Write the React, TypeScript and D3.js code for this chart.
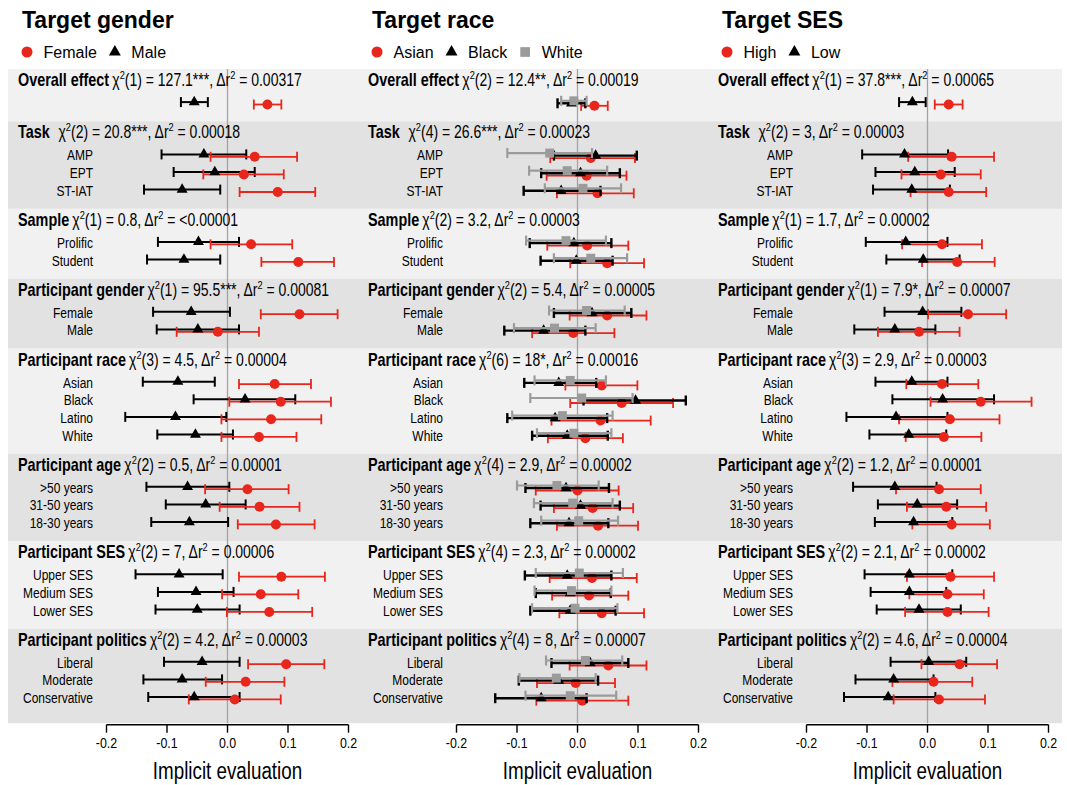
import React from "react";
import * as d3 from "d3";

// ---------- data ----------
const groupNames = [
  "Overall effect", "Task", "Sample", "Participant gender", "Participant race",
  "Participant age", "Participant SES", "Participant politics",
];
const groupLevels = [
  [""],
  ["AMP", "EPT", "ST-IAT"],
  ["Prolific", "Student"],
  ["Female", "Male"],
  ["Asian", "Black", "Latino", "White"],
  [">50 years", "31-50 years", "18-30 years"],
  ["Upper SES", "Medium SES", "Lower SES"],
  ["Liberal", "Moderate", "Conservative"],
];
const tickValues = [-0.2, -0.1, 0, 0.1, 0.2];

// Target gender
const genderDf = [1, 2, 1, 1, 3, 2, 2, 2];
const genderChi = ["127.1***", "20.8***", "0.8", "95.5***", "4.5", "0.5", "7", "4.2"];
const genderDr2 = ["0.00317", "0.00018", "<0.00001", "0.00081", "0.00004", "0.00001", "0.00006", "0.00003"];
// [estimate, lower, upper]
const genderFemale = [
  [0.066, 0.0435, 0.089],
  [0.045, -0.028, 0.115], [0.027, -0.04, 0.093], [0.083, 0.02, 0.145],
  [0.039, -0.028, 0.107], [0.117, 0.056, 0.176],
  [0.119, 0.055, 0.182], [-0.016, -0.084, 0.052],
  [0.078, 0.019, 0.138], [0.088, 0.003, 0.171], [0.072, -0.01, 0.155], [0.052, -0.01, 0.114],
  [0.033, -0.037, 0.101], [0.053, -0.013, 0.119], [0.08, 0.017, 0.144],
  [0.089, 0.019, 0.161], [0.055, -0.009, 0.117], [0.069, -0.001, 0.14],
  [0.097, 0.034, 0.16], [0.03, -0.036, 0.094], [0.012, -0.064, 0.088],
];
const genderMale = [
  [-0.055, -0.077, -0.0325],
  [-0.039, -0.109, 0.031], [-0.021, -0.089, 0.045], [-0.075, -0.138, -0.012],
  [-0.048, -0.115, 0.019], [-0.072, -0.133, -0.012],
  [-0.06, -0.123, 0.004], [-0.049, -0.117, 0.019],
  [-0.082, -0.14, -0.021], [0.029, -0.056, 0.112], [-0.086, -0.169, -0.002], [-0.053, -0.116, 0.009],
  [-0.066, -0.134, 0.003], [-0.036, -0.102, 0.03], [-0.063, -0.126, 0.001],
  [-0.08, -0.152, -0.008], [-0.052, -0.115, 0.01], [-0.05, -0.119, 0.02],
  [-0.042, -0.105, 0.02], [-0.075, -0.139, -0.009], [-0.055, -0.131, 0.02],
];

// Target race
const raceDf = [2, 4, 2, 2, 6, 4, 4, 4];
const raceChi = ["12.4**", "26.6***", "3.2", "5.4", "18*", "2.9", "2.3", "8"];
const raceDr2 = ["0.00019", "0.00023", "0.00003", "0.00005", "0.00016", "0.00002", "0.00002", "0.00007"];
const raceAsian = [
  [0.028, 0.006, 0.05],
  [0.022, -0.045, 0.095], [0.015, -0.051, 0.081], [0.033, -0.034, 0.093],
  [0.016, -0.05, 0.084], [0.049, -0.012, 0.11],
  [0.049, -0.013, 0.114], [-0.007, -0.075, 0.061],
  [0.04, -0.02, 0.099], [0.073, -0.012, 0.158], [0.038, -0.043, 0.121], [0.013, -0.049, 0.075],
  [0.0, -0.069, 0.068], [0.025, -0.039, 0.092], [0.034, -0.034, 0.1],
  [0.024, -0.046, 0.098], [0.019, -0.042, 0.084], [0.04, -0.03, 0.11],
  [0.051, -0.013, 0.114], [-0.003, -0.067, 0.062], [0.008, -0.068, 0.084],
];
const raceBlack = [
  [-0.01, -0.033, 0.013],
  [0.03, -0.039, 0.098], [0.005, -0.06, 0.07], [-0.027, -0.089, 0.038],
  [-0.006, -0.079, 0.056], [-0.002, -0.061, 0.058],
  [0.024, -0.039, 0.089], [-0.056, -0.121, 0.013],
  [-0.031, -0.088, 0.031], [0.096, 0.01, 0.179], [-0.037, -0.116, 0.049], [-0.017, -0.075, 0.05],
  [-0.019, -0.086, 0.052], [0.005, -0.061, 0.07], [-0.014, -0.078, 0.051],
  [-0.017, -0.087, 0.056], [-0.012, -0.069, 0.055], [-0.012, -0.078, 0.063],
  [0.021, -0.043, 0.084], [-0.031, -0.097, 0.034], [-0.06, -0.136, 0.015],
];
const raceWhite = [
  [-0.006, -0.027, 0.015],
  [-0.046, -0.116, 0.024], [-0.017, -0.08, 0.049], [0.009, -0.054, 0.072],
  [-0.019, -0.085, 0.047], [0.022, -0.039, 0.082],
  [0.015, -0.047, 0.078], [-0.038, -0.105, 0.03],
  [-0.012, -0.071, 0.047], [0.007, -0.078, 0.091], [-0.025, -0.108, 0.058], [-0.006, -0.067, 0.056],
  [-0.034, -0.1, 0.035], [-0.008, -0.072, 0.058], [0.002, -0.06, 0.067],
  [0.003, -0.069, 0.075], [-0.01, -0.071, 0.056], [-0.004, -0.075, 0.066],
  [0.013, -0.052, 0.074], [-0.035, -0.096, 0.03], [-0.012, -0.086, 0.064],
];

// Target SES
const sesDf = [1, 2, 1, 1, 3, 2, 2, 2];
const sesChi = ["37.8***", "3", "1.7", "7.9*", "2.9", "1.2", "2.1", "4.6"];
const sesDr2 = ["0.00065", "0.00003", "0.00002", "0.00007", "0.00003", "0.00001", "0.00002", "0.00004"];
const sesHigh = [
  [0.035, 0.012, 0.058],
  [0.04, -0.032, 0.11], [0.022, -0.043, 0.088], [0.035, -0.028, 0.097],
  [0.024, -0.042, 0.09], [0.049, -0.009, 0.111],
  [0.067, 0.001, 0.13], [-0.014, -0.082, 0.053],
  [0.024, -0.035, 0.084], [0.088, 0.005, 0.172], [0.037, -0.047, 0.119], [0.027, -0.036, 0.089],
  [0.019, -0.052, 0.088], [0.031, -0.034, 0.097], [0.04, -0.025, 0.103],
  [0.038, -0.034, 0.11], [0.033, -0.03, 0.093], [0.033, -0.037, 0.101],
  [0.053, -0.01, 0.115], [0.01, -0.058, 0.074], [0.019, -0.056, 0.095],
];
const sesLow = [
  [-0.025, -0.047, -0.003],
  [-0.038, -0.108, 0.034], [-0.021, -0.086, 0.045], [-0.026, -0.09, 0.037],
  [-0.036, -0.102, 0.033], [-0.007, -0.068, 0.053],
  [-0.008, -0.071, 0.056], [-0.054, -0.121, 0.013],
  [-0.026, -0.086, 0.033], [0.025, -0.058, 0.11], [-0.052, -0.134, 0.033], [-0.031, -0.096, 0.031],
  [-0.054, -0.123, 0.015], [-0.017, -0.082, 0.049], [-0.023, -0.087, 0.041],
  [-0.03, -0.104, 0.041], [-0.03, -0.094, 0.031], [-0.014, -0.084, 0.055],
  [0.002, -0.061, 0.064], [-0.056, -0.119, 0.01], [-0.065, -0.138, 0.013],
];

// ---------- styling ----------
const RED = "#E8261C";
const BLACK = "#000000";
const GRAY = "#9B9B9B";
const FONT = "'Liberation Sans', Arial, Helvetica, sans-serif";
const SX = 0.8; // condensed text

type Series = { name: string; shape: string; color: string; values: number[][]; dy: number; lw: number };
type Panel = { title: string; df: number[]; chi: string[]; dr2: string[]; series: Series[]; sequential: boolean; legend: number[] };

const panels: Panel[] = [
  {
    title: "Target gender", df: genderDf, chi: genderChi, dr2: genderDr2, sequential: false,
    legend: [1, 0],
    series: [
      { name: "Male", shape: "triangle", color: BLACK, values: genderMale, dy: -1.2, lw: 2 },
      { name: "Female", shape: "circle", color: RED, values: genderFemale, dy: 1.2, lw: 1.8 },
    ],
  },
  {
    title: "Target race", df: raceDf, chi: raceChi, dr2: raceDr2, sequential: true,
    legend: [0, 1, 2],
    series: [
      { name: "Asian", shape: "circle", color: RED, values: raceAsian, dy: 2.5, lw: 1.8 },
      { name: "Black", shape: "triangle", color: BLACK, values: raceBlack, dy: 0, lw: 2.4 },
      { name: "White", shape: "square", color: GRAY, values: raceWhite, dy: -2.5, lw: 2.2 },
    ],
  },
  {
    title: "Target SES", df: sesDf, chi: sesChi, dr2: sesDr2, sequential: false,
    legend: [1, 0],
    series: [
      { name: "Low", shape: "triangle", color: BLACK, values: sesLow, dy: -1.2, lw: 2 },
      { name: "High", shape: "circle", color: RED, values: sesHigh, dy: 1.2, lw: 1.8 },
    ],
  },
];

// ---------- layout ----------
const PANEL_W = 350;
const X0 = 106.5;
const X1 = 348.5;
const HEADER0 = 80;
const HEAD_TO_ROW = 23.3;
const ROW_STEP = 17.6;
const GROUP_GAP = 29;
const BAND_X0 = 8;
const BAND_X1 = 1062;

const layout = (() => {
  let y = HEADER0;
  const out: { header: number; rows: number[] }[] = [];
  groupLevels.forEach((levels) => {
    const header = y;
    const rows = levels.map((_, i) => header + HEAD_TO_ROW + i * ROW_STEP);
    out.push({ header, rows });
    y = rows[rows.length - 1] + GROUP_GAP;
  });
  return out;
})();
const rowYs = layout.flatMap((g) => g.rows);
const bandTop = (i: number) => layout[i].header - 11;
const bandBottom = (i: number) =>
  i < layout.length - 1 ? layout[i + 1].header - 11 : layout[i].rows[layout[i].rows.length - 1] + 25;
const plotTop = bandTop(0);
const plotBottom = bandBottom(layout.length - 1);
const axisY = plotBottom + 1.5;

const symbolPath = (shape: string, size: number) => {
  const t = shape === "circle" ? d3.symbolCircle : shape === "triangle" ? d3.symbolTriangle : d3.symbolSquare;
  return d3.symbol().type(t).size(size)() as string;
};
const markerSize = (shape: string) => (shape === "circle" ? 78 : shape === "triangle" ? 52 : 80);

const fmt = (v: number) => d3.format(".1f")(v).replace("\u2212", "-");

function measure(text: string, font: string) {
  if (typeof document === "undefined") return text.length * 8;
  const c = document.createElement("canvas").getContext("2d");
  if (!c) return text.length * 8;
  c.font = font;
  return c.measureText(text).width;
}

function CText(props: any) {
  const { x, y, anchor = "start", size, weight = "normal", children, fill = "#000" } = props;
  return (
    <text
      transform={`translate(${x},${y}) scale(${SX},1)`}
      textAnchor={anchor}
      fontSize={size}
      fontWeight={weight}
      fill={fill}
      fontFamily={FONT}
    >
      {children}
    </text>
  );
}

function ErrorBar({ x, lo, hi, y, color, lw }: any) {
  const cap = 5;
  return (
    <g stroke={color} strokeWidth={lw} fill="none">
      <line x1={x(lo)} x2={x(hi)} y1={y} y2={y} />
      <line x1={x(lo)} x2={x(lo)} y1={y - cap} y2={y + cap} />
      <line x1={x(hi)} x2={x(hi)} y1={y - cap} y2={y + cap} />
    </g>
  );
}

function Point({ x, y, shape, color }: any) {
  return <path d={symbolPath(shape, markerSize(shape))} transform={`translate(${x},${y})`} fill={color} />;
}

function PanelView({ panel, index }: { panel: Panel; index: number }) {
  const off = index * PANEL_W;
  const x = d3.scaleLinear().domain([-0.2, 0.2]).range([X0 + off, X1 + off]);

  const bars = (s: Series, si: number) =>
    s.values.map((v, i) => (
      <ErrorBar key={`b${si}-${i}`} x={x} lo={v[1]} hi={v[2]} y={rowYs[i] + s.dy} color={s.color} lw={s.lw} />
    ));
  const points = (s: Series, si: number) =>
    s.values.map((v, i) => (
      <Point key={`p${si}-${i}`} x={x(v[0])} y={rowYs[i] + s.dy} shape={s.shape} color={s.color} />
    ));

  // legend
  const legendFont = `16px ${FONT}`;
  let lx = off + 27;
  const legendItems = panel.legend.map((si) => {
    const s = panel.series[si];
    const mx = lx;
    const tx = mx + 16.5;
    lx = tx + measure(s.name, legendFont) + 18;
    return (
      <g key={`lg${si}`}>
        <path
          d={symbolPath(s.shape, s.shape === "circle" ? 95 : s.shape === "triangle" ? 62 : 95)}
          transform={`translate(${mx},52)`}
          fill={s.color}
        />
        <text x={tx} y={58} fontSize={16} fontFamily={FONT} fill="#000">
          {s.name}
        </text>
      </g>
    );
  });

  return (
    <g>
      <text x={off + 22} y={28} fontSize={23} fontWeight="bold" fontFamily={FONT} fill="#000">
        {panel.title}
      </text>
      {legendItems}

      {/* zero reference line */}
      <line x1={x(0)} x2={x(0)} y1={plotTop} y2={plotBottom} stroke="#A3A3A3" strokeWidth={1.3} />

      {/* group headers and row labels */}
      {groupNames.map((name, gi) => (
        <g key={`h${gi}`}>
          <CText x={off + 18} y={layout[gi].header + 6} size={18}>
            <tspan fontWeight="bold">{name}</tspan>
            <tspan dx={name === "Task" ? 11 : 4} fontSize={17.5}>{"\u03C7"}</tspan>
            <tspan dy={-7} fontSize={11.5}>2</tspan>
            <tspan dy={7} fontSize={17.5}>{`(${panel.df[gi]}) = ${panel.chi[gi]}, \u0394r`}</tspan>
            <tspan dy={-7} fontSize={11.5}>2</tspan>
            <tspan dy={7} fontSize={17.5}>{` = ${panel.dr2[gi]}`}</tspan>
          </CText>
          {groupLevels[gi].map((lvl, li) =>
            lvl ? (
              <CText key={`l${li}`} x={off + 93} y={layout[gi].rows[li] + 4.8} size={15} anchor="end">
                {lvl}
              </CText>
            ) : null
          )}
        </g>
      ))}

      {/* marks */}
      {panel.sequential
        ? panel.series.map((s, si) => (
            <g key={`s${si}`}>
              {bars(s, si)}
              {points(s, si)}
            </g>
          ))
        : [
            <g key="bars">{panel.series.map((s, si) => bars(s, si))}</g>,
            <g key="pts">{panel.series.map((s, si) => points(s, si))}</g>,
          ]}

      {/* x axis */}
      <line x1={x(-0.2)} x2={x(0.2)} y1={axisY} y2={axisY} stroke="#000" strokeWidth={1.4} />
      {tickValues.map((t) => (
        <g key={`t${t}`}>
          <line x1={x(t)} x2={x(t)} y1={axisY} y2={axisY + 8} stroke="#000" strokeWidth={1.4} />
          <CText x={x(t)} y={axisY + 23} size={15.5} anchor="middle">
            {fmt(t)}
          </CText>
        </g>
      ))}
      <CText x={x(0)} y={779} size={23.5} anchor="middle">
        Implicit evaluation
      </CText>
    </g>
  );
}

export default function App() {
  return (
    <svg
      width={1067}
      height={785}
      style={{ position: "absolute", left: 0, top: 0, background: "#fff" }}
      xmlns="http://www.w3.org/2000/svg"
    >
      <rect x={0} y={0} width={1067} height={785} fill="#fff" />
      {groupNames.map((_, gi) => (
        <rect
          key={`band${gi}`}
          x={BAND_X0}
          y={bandTop(gi)}
          width={BAND_X1 - BAND_X0}
          height={bandBottom(gi) - bandTop(gi)}
          fill={gi % 2 === 0 ? "#F1F1F1" : "#E2E2E2"}
        />
      ))}
      {panels.map((p, i) => (
        <PanelView key={i} panel={p} index={i} />
      ))}
    </svg>
  );
}
